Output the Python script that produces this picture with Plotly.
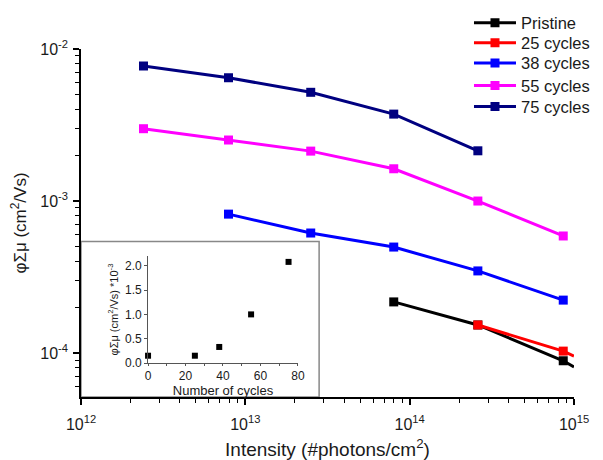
import plotly.graph_objects as go

# ---- data ----
intensity = [2.4e12, 7.9e12, 2.5e13, 8.0e13, 2.6e14, 8.6e14]
series_names = ["Pristine", "25 cycles", "38 cycles", "55 cycles", "75 cycles"]
pristine = [None, None, None, 2.17e-4, 1.53e-4, 8.9e-5]
cyc25 = [None, None, None, None, 1.53e-4, 1.03e-4]
cyc38 = [None, 8.2e-4, 6.16e-4, 4.98e-4, 3.47e-4, 2.23e-4]
cyc55 = [2.99e-3, 2.52e-3, 2.13e-3, 1.63e-3, 1.0e-3, 5.89e-4]
cyc75 = [7.73e-3, 6.47e-3, 5.19e-3, 3.73e-3, 2.14e-3, None]
colors = ["#000000", "#ff0000", "#0000ff", "#ff00ff", "#000080"]

# line continuation past the last marker (to the axis end)
tail_x = [8.6e14, 1.0e15]
pristine_tail = [8.9e-5, 8.1e-5]
cyc25_tail = [1.03e-4, 9.55e-5]

inset_cycles = [0, 25, 38, 55, 75]
inset_values = [0.15, 0.15, 0.33, 1.0, 2.08]

x_ticks = [1e12, 1e13, 1e14, 1e15]
x_ticktext = ["10<sup>12</sup>", "10<sup>13</sup>", "10<sup>14</sup>", "10<sup>15</sup>"]
y_ticks = [1e-4, 1e-3, 1e-2]
y_ticktext = ["10<sup>-4</sup>", "10<sup>-3</sup>", "10<sup>-2</sup>"]

FONT = "Liberation Sans, Arial, sans-serif"
TXT = "#1a1a1a"

fig = go.Figure()
all_series = [pristine, cyc25, cyc38, cyc55, cyc75]
legend_ids = ["legend", "legend2", "legend3", "legend4", "legend5"]
for name, ys, col, lg in zip(series_names, all_series, colors, legend_ids):
    fig.add_trace(go.Scatter(
        x=intensity, y=ys, name=name, mode="lines+markers",
        line=dict(color=col, width=3),
        marker=dict(symbol="square", size=9, color=col),
        connectgaps=False, xaxis="x", yaxis="y", legend=lg,
    ))
for ys, col in zip([pristine_tail, cyc25_tail], colors[:2]):
    fig.add_trace(go.Scatter(
        x=tail_x, y=ys, mode="lines", showlegend=False,
        line=dict(color=col, width=3), xaxis="x", yaxis="y",
    ))

fig.add_trace(go.Scatter(
    x=inset_cycles, y=inset_values, mode="markers", showlegend=False,
    marker=dict(symbol="square", size=6, color="black"),
    xaxis="x2", yaxis="y2", cliponaxis=False,
))

minor_x = [k * 10 ** e for e in range(12, 15) for k in range(2, 10)]
minor_y = [k * 10 ** e for e in range(-5, -2) for k in range(2, 10)]

legend_y = [1.075, 1.017, 0.959, 0.894, 0.834]
legend_layout = {}
for lg, ly in zip(legend_ids, legend_y):
    legend_layout[lg] = dict(
        x=0.787, y=ly, xanchor="left", yanchor="middle",
        font=dict(size=16.5, family=FONT, color=TXT),
        bgcolor="rgba(0,0,0,0)", itemwidth=42,
    )

fig.update_layout(
    width=595, height=452,
    margin=dict(l=73, r=29, t=41, b=63, autoexpand=False),
    paper_bgcolor="white", plot_bgcolor="white",
    font=dict(family=FONT, color=TXT),
    xaxis=dict(
        type="log", range=[12, 15], showgrid=False, zeroline=False,
        showline=True, linecolor="black", linewidth=1.5,
        ticks="outside", ticklen=6, tickwidth=1.5, tickcolor="black",
        tickvals=x_ticks, ticktext=x_ticktext, tickfont=dict(size=16),
        ticklabelstandoff=6,
        minor=dict(tickvals=minor_x, ticks="outside", ticklen=4, tickwidth=1.2, tickcolor="black"),
        title=dict(text="Intensity (#photons/cm<sup>2</sup>)", font=dict(size=19), standoff=14),
    ),
    yaxis=dict(
        type="log", range=[-4.289, -2], showgrid=False, zeroline=False,
        showline=True, linecolor="black", linewidth=1.5,
        ticks="outside", ticklen=6, tickwidth=1.5, tickcolor="black",
        tickvals=y_ticks, ticktext=y_ticktext, tickfont=dict(size=16),
        ticklabelstandoff=2,
        minor=dict(tickvals=minor_y, ticks="outside", ticklen=4, tickwidth=1.2, tickcolor="black"),
        title=dict(text="φΣμ (cm<sup>2</sup>/Vs)", font=dict(size=17), standoff=10),
    ),
    xaxis2=dict(
        domain=[0.136, 0.440], anchor="y2", range=[0, 80], showgrid=False, zeroline=False,
        showline=True, linecolor="#555", linewidth=1,
        ticks="outside", ticklen=2, tickcolor="#555", tickvals=[0, 20, 40, 60, 80],
        tickfont=dict(size=12),
        minor=dict(tickvals=[10, 30, 50, 70], ticks="outside", ticklen=2, tickcolor="#555"),
        title=dict(text="Number of cycles", font=dict(size=13), standoff=0),
    ),
    yaxis2=dict(
        domain=[0.0977, 0.405], anchor="x2", range=[0, 2.2], showgrid=False, zeroline=False,
        showline=True, linecolor="#555", linewidth=1,
        ticks="outside", ticklen=3, tickcolor="#555",
        tickvals=[0, 0.5, 1.0, 1.5, 2.0], ticktext=["0.0", "0.5", "1.0", "1.5", "2.0"],
        tickfont=dict(size=12),
        title=dict(text="φΣμ (cm<sup>2</sup>/Vs) *10<sup>-3</sup>", font=dict(size=11), standoff=4),
    ),
    shapes=[dict(type="rect", xref="paper", yref="paper", x0=0, x1=0.483, y0=0, y1=0.447,
                 line=dict(color="#888", width=1.5), fillcolor="white", layer="below")],
    **legend_layout,
)

fig.write_html("out.html")
